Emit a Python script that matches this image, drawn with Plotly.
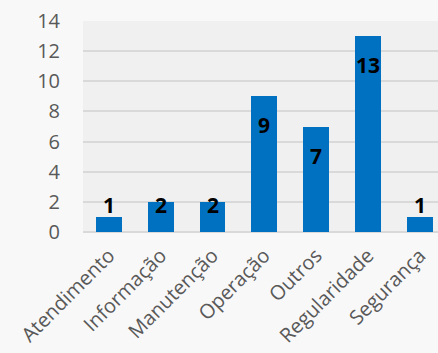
import plotly.graph_objects as go

categories = ["Atendimento", "Informação", "Manutenção", "Operação", "Outros", "Regularidade", "Segurança"]
values = [1, 2, 2, 9, 7, 13, 1]
y_ticks = [0, 2, 4, 6, 8, 10, 12, 14]

W, H = 438, 353
m_l, m_r, m_t, m_b = 83, 0, 21, 121
y_max = 14
ppu = (H - m_t - m_b) / y_max  # pixels per unit

bar_color = "#0070C0"
grid_color = "#D9D9D9"
text_gray = "#595959"
font_fam = "Open Sans"

fig = go.Figure()
fig.add_trace(go.Bar(
    x=list(range(len(categories))),
    y=values,
    width=0.5,
    marker=dict(color=bar_color, line=dict(width=0)),
    hoverinfo="skip",
))

# data labels: ~28px below bar top, but kept inside the lower band for small bars
for i, v in enumerate(values):
    ly = max(v - 29 / ppu, 27.5 / ppu)
    fig.add_annotation(
        x=i, y=ly, text=f"<b>{v}</b>", showarrow=False,
        xanchor="center", yanchor="middle",
        font=dict(family=font_fam, size=21, color="#000000"),
    )

band_px = 51.8
x_end = -0.5 + (W - m_l - m_r) / band_px

fig.update_layout(
    width=W, height=H,
    margin=dict(l=m_l, r=m_r, t=m_t, b=m_b, pad=0, autoexpand=False),
    paper_bgcolor="#F8F8F8",
    plot_bgcolor="#F0F0F0",
    showlegend=False,
    bargap=0,
    xaxis=dict(
        range=[-0.5, x_end],
        tickmode="array",
        tickvals=list(range(len(categories))),
        ticktext=categories,
        tickangle=-45,
        tickfont=dict(family=font_fam, size=20, color=text_gray),
        showgrid=False, zeroline=False, showline=False, ticks="",
        ticklabelstandoff=7,
        automargin=False,
    ),
    yaxis=dict(
        range=[0, y_max],
        tickmode="array",
        tickvals=y_ticks,
        tickfont=dict(family=font_fam, size=20, color=text_gray),
        showgrid=True, gridcolor=grid_color, gridwidth=1.5,
        zeroline=True, zerolinecolor=grid_color, zerolinewidth=1.5,
        showline=False, ticks="",
        ticklabelstandoff=22,
        automargin=False,
    ),
)

fig.write_html("out.html")
